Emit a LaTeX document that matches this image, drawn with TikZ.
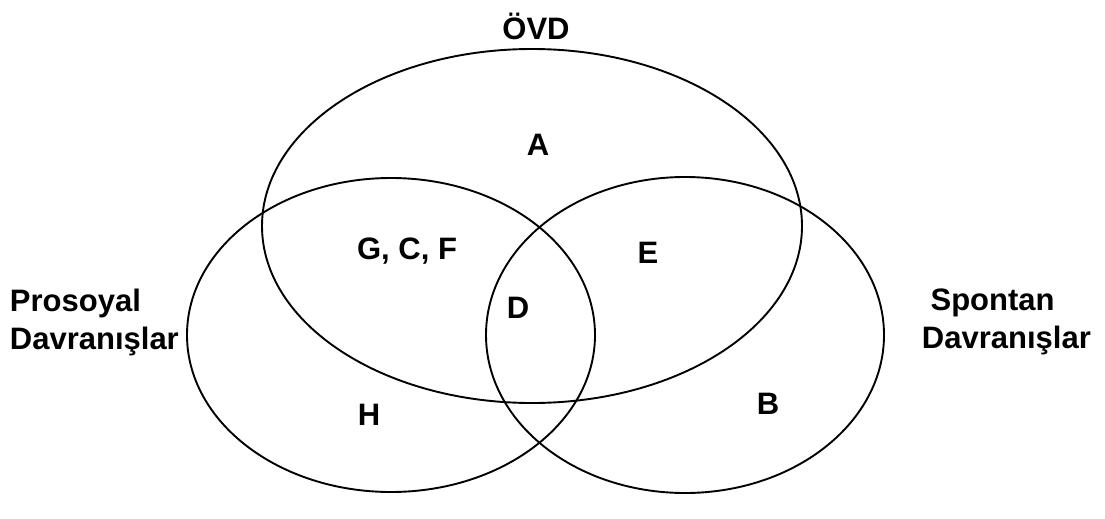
\documentclass[tikz,border=0pt]{standalone}
\usepackage{fontspec}
\setmainfont{Liberation Sans}
\usetikzlibrary{shapes.geometric}
\begin{document}
\begin{tikzpicture}[x=1pt, y=-1pt, line width=1.9pt,
  set/.style={ellipse, draw, inner sep=0pt},
  lbl/.style={font=\fontsize{31}{38}\selectfont\bfseries, inner sep=0pt}]
\useasboundingbox (0,0) rectangle (1105,519);
\node[set, minimum width=540pt, minimum height=354pt] (ovd) at (532,226){};
\node[set, minimum width=408pt, minimum height=314pt] (pro) at (391,335){};
\node[set, minimum width=398pt, minimum height=316pt] (spo) at (685,335){};
\node[lbl] (tovd) at (536,26){ÖVD};
\node[lbl] (ta) at (538,145){A};
\node[lbl] (tgcf) at (407,251){G, C, F};
\node[lbl] (te) at (648,253){E};
\node[lbl] (td) at (518,308){D};
\node[lbl] (th) at (369,415){H};
\node[lbl] (tb) at (768,404){B};
\node[lbl, anchor=west, align=left] (tpro) at (9,322){Prosoyal\\Davranışlar};
\node[lbl, anchor=west, align=left] (tspo) at (921,322){\ Spontan\\Davranışlar};
\end{tikzpicture}
\end{document}
